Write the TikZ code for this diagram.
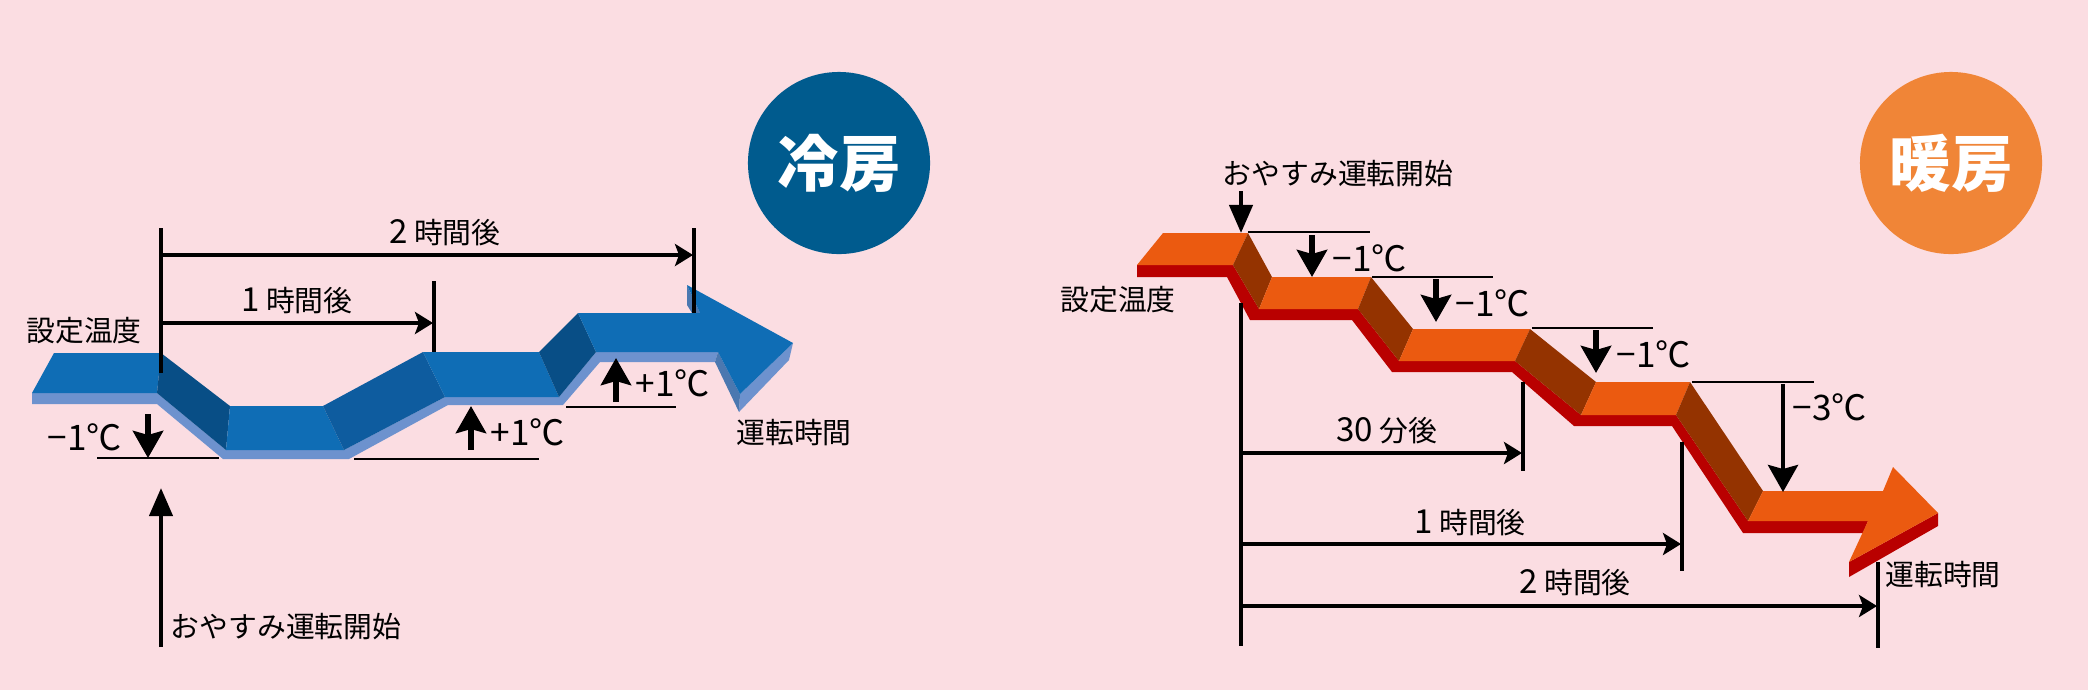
\documentclass[tikz,border=0pt]{standalone}
\usepackage{fontspec}
\setmainfont{Noto Sans CJK JP}
\usetikzlibrary{arrows.meta}
\definecolor{bgpink}{HTML}{FBDDE2}
\definecolor{coolcircle}{HTML}{005B8E}
\definecolor{heatcircle}{HTML}{F08537}
\definecolor{coolface}{HTML}{0F6DB5}
\definecolor{coolslope}{HTML}{084E86}
\definecolor{coolrise}{HTML}{0E5C9F}
\definecolor{coolside}{HTML}{6D92CE}
\definecolor{coolshade}{HTML}{4B78B0}
\definecolor{heatface}{HTML}{EB5A10}
\definecolor{heatslope}{HTML}{943300}
\definecolor{heatside}{HTML}{B90000}
\newcommand{\dg}[1]{{\fontsize{9.4}{10}\selectfont #1}}

\begin{document}
\begin{tikzpicture}[
  x=0.01cm, y=-0.01cm,
  label/.style={inner sep=0pt, font=\fontsize{8.2}{10}\selectfont},
  templabel/.style={inner sep=0pt, font=\fontsize{10}{12}\selectfont},
  badge/.style={circle, inner sep=0pt, minimum size=1.82cm, text=white, font=\fontsize{17.5}{20}\selectfont\bfseries},
  tick/.style={line width=1pt},
  rule/.style={line width=0.45pt},
  span/.style={line width=1pt, -{Stealth[length=0.18cm,width=0.22cm,inset=0.04cm]}},
  bigarrow/.style={line width=1.7pt, -{Stealth[length=0.27cm,width=0.30cm,inset=0.04cm]}},
  longarrow/.style={line width=1.2pt, -{Stealth[length=0.27cm,width=0.30cm,inset=0.04cm]}},
  slimarrow/.style={line width=1.2pt, -{Triangle[length=0.28cm,width=0.23cm]}},
  ]

\fill[bgpink] (0,0) rectangle (2088,690);
\useasboundingbox (0,0) rectangle (2088,690);

\node[badge, fill=coolcircle] (cool) at (839,163) {冷房};
\node[badge, fill=heatcircle] (heat) at (1951,163) {暖房};

% cooling band
\fill[coolside] (32,393) -- (157,393) -- (226,450) -- (344,450) -- (445,397) -- (559,397) -- (596,352) -- (718,352)
  -- (715,362) -- (600,362) -- (563,405) -- (448,405) -- (349,459) -- (223,459) -- (157,404) -- (32,404) -- cycle;
\fill[coolside] (793,343) -- (789,360) -- (739,412) -- (740,394) -- cycle;
\fill[coolshade] (718,352) -- (740,394) -- (739,412) -- (715,362) -- cycle;
\fill[coolshade] (687,285) -- (687,305) -- (692,313) -- (700,313) -- cycle;
\fill[coolface] (54,353) -- (161,353) -- (157,393) -- (32,393) -- cycle;
\fill[coolslope] (161,353) -- (230,406) -- (226,450) -- (157,393) -- cycle;
\fill[coolface] (230,406) -- (323,406) -- (344,450) -- (226,450) -- cycle;
\fill[coolrise] (323,406) -- (423,352) -- (445,397) -- (344,450) -- cycle;
\fill[coolface] (423,352) -- (539,352) -- (559,397) -- (445,397) -- cycle;
\fill[coolslope] (539,352) -- (578,313) -- (596,352) -- (559,397) -- cycle;
\fill[coolface] (578,313) -- (700,313) -- (687,285) -- (793,343) -- (740,394) -- (718,352) -- (596,352) -- cycle;

% heating band
\fill[heatside] (1137,265) -- (1233,265) -- (1259,309) -- (1358,309) -- (1399,361) -- (1515,361) -- (1581,415) -- (1676,415)
  -- (1748,521) -- (1868,521) -- (1863,533) -- (1743,533) -- (1672,426) -- (1574,426) -- (1512,372) -- (1392,372)
  -- (1352,320) -- (1250,320) -- (1227,277) -- (1137,277) -- cycle;
\fill[heatside] (1938,513) -- (1938,526) -- (1849,577) -- (1849,562) -- cycle;
\fill[heatface] (1163,233) -- (1248,233) -- (1233,265) -- (1137,265) -- cycle;
\fill[heatslope] (1248,233) -- (1272,277) -- (1259,309) -- (1233,265) -- cycle;
\fill[heatface] (1272,277) -- (1371,277) -- (1358,309) -- (1259,309) -- cycle;
\fill[heatslope] (1371,277) -- (1413,329) -- (1399,361) -- (1358,309) -- cycle;
\fill[heatface] (1413,329) -- (1530,329) -- (1515,361) -- (1399,361) -- cycle;
\fill[heatslope] (1530,329) -- (1596,382) -- (1581,415) -- (1515,361) -- cycle;
\fill[heatface] (1596,382) -- (1690,382) -- (1676,415) -- (1581,415) -- cycle;
\fill[heatslope] (1690,382) -- (1763,491) -- (1748,521) -- (1676,415) -- cycle;
\fill[heatface] (1763,491) -- (1883,491) -- (1893,467) -- (1938,513) -- (1849,562) -- (1868,521) -- (1748,521) -- cycle;

% cooling labels
\node[label] (csetting) at (84,331) {設定温度};
\node[templabel] (cminus) at (85,437) {−1℃};
\node[templabel] (cplusa) at (528,432) {+1℃};
\node[templabel] (cplusb) at (673,383) {+1℃};
\node[label] (chour) at (297,301) {\dg{1} 時間後};
\node[label] (ctwohour) at (445,233) {\dg{2} 時間後};
\node[label] (celapsed) at (794,433) {運転時間};
\node[label] (cstart) at (286,627) {おやすみ運転開始};

% heating labels
\node[label] (hsetting) at (1118,300) {設定温度};
\node[label] (hstart) at (1338,174) {おやすみ運転開始};
\node[templabel] (hminusa) at (1370,258) {−1℃};
\node[templabel] (hminusb) at (1493,303) {−1℃};
\node[templabel] (hminusc) at (1654,354) {−1℃};
\node[templabel] (hminusd) at (1830,407) {−3℃};
\node[label] (hhalf) at (1387,431) {\dg{30} 分後};
\node[label] (hhour) at (1470,523) {\dg{1} 時間後};
\node[label] (htwohour) at (1575,583) {\dg{2} 時間後};
\node[label] (helapsed) at (1943,575) {運転時間};

% cooling lines
\coordinate (ctop) at (161,228);
\coordinate (cbase) at (161,373);
\coordinate (cone) at (434,281);
\coordinate (coneb) at (434,352);
\coordinate (ctwo) at (694,228);
\coordinate (ctwob) at (694,313);
\coordinate (conetip) at (433,323);
\coordinate (ctwotip) at (693,255);
\coordinate (cfoot) at (161,647);
\coordinate (cfoottip) at (161,488);

\draw[tick] (ctop) -- (cbase);
\draw[tick] (cone) -- (coneb);
\draw[tick] (ctwo) -- (ctwob);
\draw[span] (ctop |- conetip) -- (conetip);
\draw[span] (ctop |- ctwotip) -- (ctwotip);
\draw[slimarrow] (cfoot) -- (cfoottip);

\draw[rule] (97,458) coordinate (cra) -- (219,458) coordinate (crb);
\draw[rule] (354,459) coordinate (crc) -- (539,459) coordinate (crd);
\draw[rule] (566,407) coordinate (cre) -- (676,407) coordinate (crf);
\coordinate (cdown) at (148,414);
\coordinate (cupa) at (471,450);
\coordinate (cupb) at (616,402);
\draw[bigarrow] (cdown) -- (cdown |- cra);
\draw[bigarrow] (cupa) -- (471,406);
\draw[bigarrow] (cupb) -- (616,358);

% heating lines
\coordinate (hdrop) at (1241,191);
\coordinate (hdroptip) at (1241,233);
\coordinate (hbase) at (1241,303);
\coordinate (hfoot) at (1241,646);
\coordinate (hhalftop) at (1523,382);
\coordinate (hhalfend) at (1523,471);
\coordinate (honetop) at (1682,442);
\coordinate (honeend) at (1682,571);
\coordinate (htwotop) at (1878,562);
\coordinate (htwoend) at (1878,648);
\coordinate (hhalftip) at (1522,453);
\coordinate (honetip) at (1681,544);
\coordinate (htwotip) at (1877,606);

\draw[slimarrow] (hdrop) -- (hdroptip);
\draw[tick] (hbase) -- (hfoot);
\draw[tick] (hhalftop) -- (hhalfend);
\draw[tick] (honetop) -- (honeend);
\draw[tick] (htwotop) -- (htwoend);
\draw[span] (hbase |- hhalftip) -- (hhalftip);
\draw[span] (hbase |- honetip) -- (honetip);
\draw[span] (hbase |- htwotip) -- (htwotip);

\draw[rule] (1248,232) coordinate (hra) -- (1370,232) coordinate (hrb);
\draw[rule] (1372,277) coordinate (hrc) -- (1493,277) coordinate (hrd);
\draw[rule] (1532,328) coordinate (hre) -- (1653,328) coordinate (hrf);
\draw[rule] (1692,382) coordinate (hrg) -- (1814,382) coordinate (hrh);
\draw[bigarrow] (1312,235) coordinate (hda) -- (1312,277);
\draw[bigarrow] (1436,279) coordinate (hdb) -- (1436,322);
\draw[bigarrow] (1596,330) coordinate (hdc) -- (1596,373);
\draw[longarrow] (1783,384) coordinate (hdd) -- (1783,492);

\end{tikzpicture}
\end{document}
